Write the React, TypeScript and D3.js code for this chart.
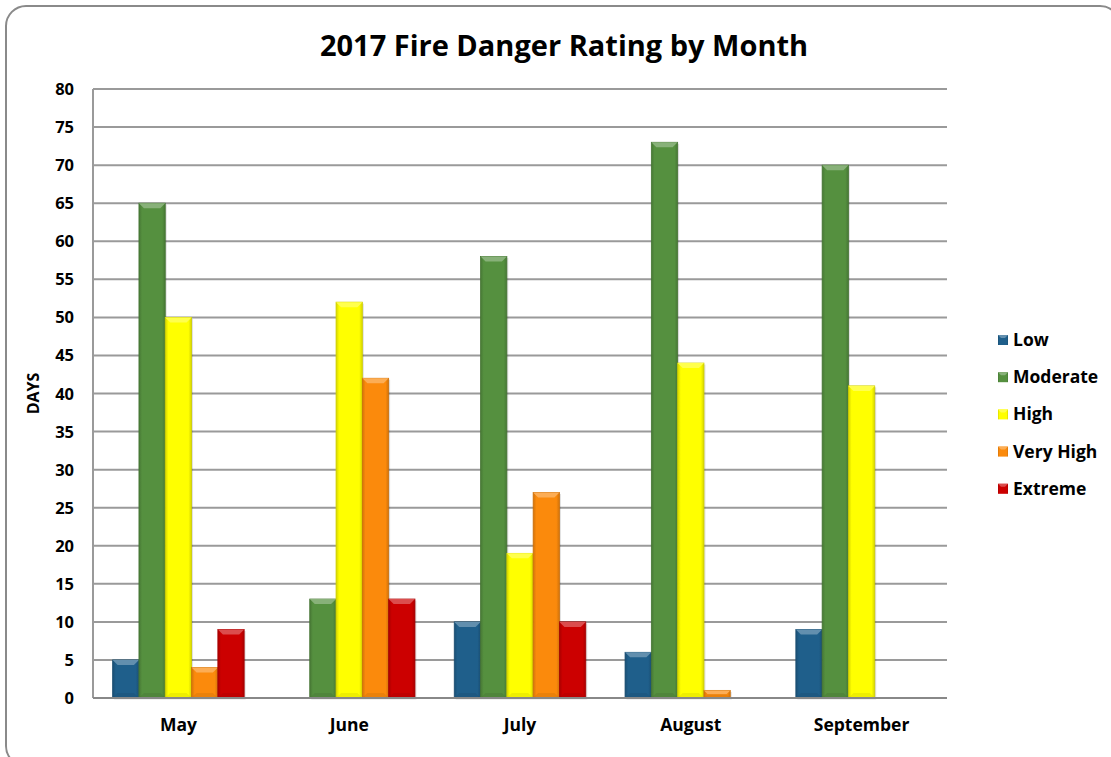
import React from "react";
import * as d3 from "d3";

const months = ["May", "June", "July", "August", "September"];
const seriesNames = ["Low", "Moderate", "High", "Very High", "Extreme"];
const low = [5, 0, 10, 6, 9];
const moderate = [65, 13, 58, 73, 70];
const high = [50, 52, 19, 44, 41];
const veryHigh = [4, 42, 27, 1, 0];
const extreme = [9, 13, 10, 0, 0];
const yTicks = [0, 5, 10, 15, 20, 25, 30, 35, 40, 45, 50, 55, 60, 65, 70, 75, 80];
const colors = ["#1f5f8b", "#55903f", "#ffff00", "#fb8a0c", "#cc0000"];

const W = 1111;
const H = 757;
const plot = { left: 93, right: 947, top: 89, bottom: 698 };
const FONT = "'Open Sans', sans-serif";

export default function App() {
  const values = [low, moderate, high, veryHigh, extreme];
  const x0 = d3.scaleBand().domain(months).range([plot.left, plot.right]).paddingInner(0.23).paddingOuter(0.115);
  const x1 = d3.scaleBand().domain(seriesNames).range([0, x0.bandwidth()]).padding(0);
  const y = d3.scaleLinear().domain([0, 80]).range([plot.bottom, plot.top]);

  const bars: React.ReactNode[] = [];
  months.forEach((m, mi) => {
    seriesNames.forEach((s, si) => {
      const v = values[si][mi];
      if (v <= 0) return;
      const bx = (x0(m) as number) + (x1(s) as number);
      const bw = x1.bandwidth();
      const by = y(v);
      const bh = y(0) - by;
      const b = Math.min(5, bh / 2);
      const c = d3.color(colors[si])!;
      const light = d3.interpolateRgb(colors[si], "#ffffff")(0.3);
      const dark = c.darker(0.6).toString();
      bars.push(
        <g key={m + s}>
          <rect x={bx + 1.5} y={by + 1.5} width={bw} height={bh} fill="#000" opacity={0.12} />
          <rect x={bx} y={by} width={bw} height={bh} fill={`url(#grad${si})`} stroke={dark} strokeWidth={0.8} />
          <polygon
            points={`${bx},${by} ${bx + bw},${by} ${bx + bw - b},${by + b} ${bx + b},${by + b}`}
            fill={light}
          />
          <polygon
            points={`${bx},${by + bh} ${bx + bw},${by + bh} ${bx + bw - b},${by + bh - b} ${bx + b},${by + bh - b}`}
            fill={dark}
            opacity={0.35}
          />
        </g>
      );
    });
  });

  return (
    <div style={{ position: "absolute", left: 0, top: 0 }}>
      <svg width={W} height={H} style={{ display: "block" }}>
        <defs>
          {colors.map((col, i) => {
            const dk = d3.color(col)!.darker(0.5).toString();
            return (
              <linearGradient id={`grad${i}`} key={i} x1="0" x2="1" y1="0" y2="0">
                <stop offset="0" stopColor={dk} />
                <stop offset="0.12" stopColor={col} />
                <stop offset="0.88" stopColor={col} />
                <stop offset="1" stopColor={dk} />
              </linearGradient>
            );
          })}
        </defs>
        <rect x={0} y={0} width={W} height={H} fill="#ffffff" />
        <rect x={6} y={6} width={1114} height={760} rx={20} ry={20} fill="#ffffff" stroke="#8a8a8a" strokeWidth={2} />
        <text x={564} y={56} textAnchor="middle" fontFamily={FONT} fontWeight="bold" fontSize={29} fill="#000">
          2017 Fire Danger Rating by Month
        </text>
        {yTicks.map((t) => (
          <g key={t}>
            {t > 0 && (
              <line x1={plot.left} x2={plot.right} y1={y(t)} y2={y(t)} stroke="#9a9a9a" strokeWidth={2} />
            )}
            <text x={74} y={y(t) + 6} textAnchor="end" fontFamily={FONT} fontWeight="bold" fontSize={16.5} fill="#000">
              {t}
            </text>
          </g>
        ))}
        <line x1={plot.left} x2={plot.left} y1={plot.top} y2={plot.bottom} stroke="#9a9a9a" strokeWidth={2} />
        {bars}
        <line x1={plot.left} x2={plot.right} y1={plot.bottom} y2={plot.bottom} stroke="#888888" strokeWidth={2} />
        {months.map((m) => (
          <text
            key={m}
            x={(x0(m) as number) + x0.bandwidth() / 2}
            y={731}
            textAnchor="middle"
            fontFamily={FONT}
            fontWeight="bold"
            fontSize={17.5}
            fill="#000"
          >
            {m}
          </text>
        ))}
        <text
          transform={`translate(39,${(plot.top + plot.bottom) / 2}) rotate(-90)`}
          textAnchor="middle"
          fontFamily={FONT}
          fontWeight="bold"
          fontSize={16}
          fill="#000"
        >
          DAYS
        </text>
        {seriesNames.map((s, i) => {
          const ly = 340 + i * 37.2;
          return (
            <g key={s}>
              <rect x={998} y={ly - 5} width={10} height={10} fill={`url(#grad${i})`} />
              <polygon points={`${998},${ly - 5} ${1008},${ly - 5} ${1005},${ly - 2} ${1001},${ly - 2}`} fill={d3.interpolateRgb(colors[i], "#fff")(0.3)} />
              <text x={1013} y={ly + 6} fontFamily={FONT} fontWeight="bold" fontSize={17.5} fill="#000">
                {s}
              </text>
            </g>
          );
        })}
      </svg>
    </div>
  );
}
